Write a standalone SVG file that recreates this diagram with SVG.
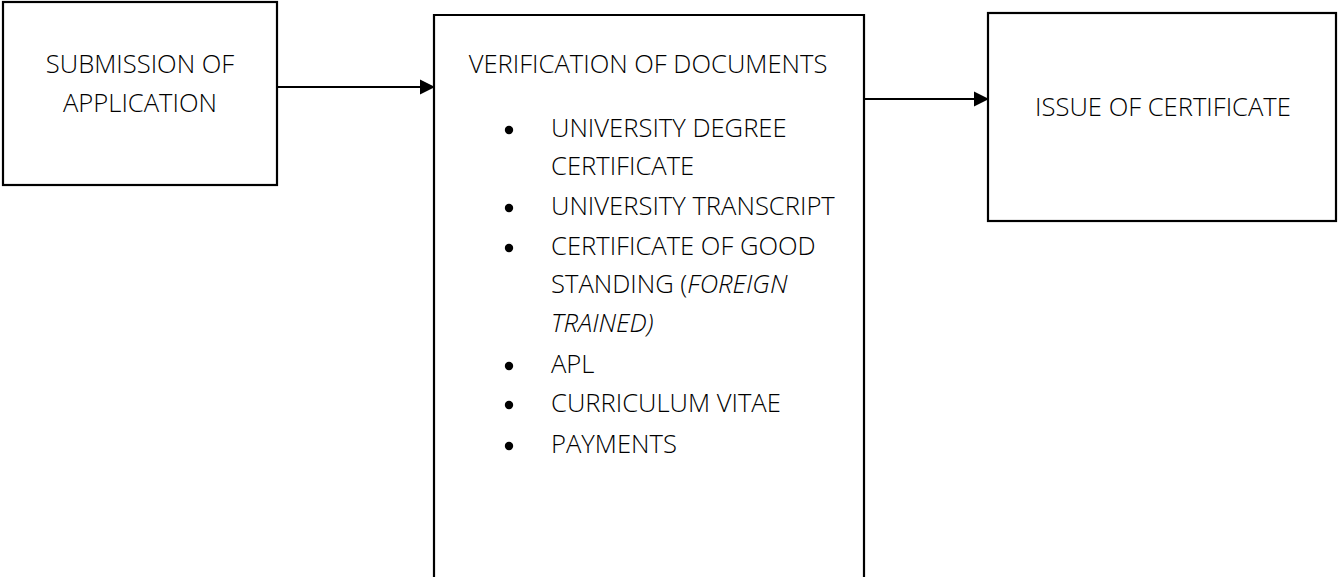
<svg xmlns="http://www.w3.org/2000/svg" width="1339" height="577" viewBox="0 0 1339 577">
<defs>
<style>
.box{fill:#fff;stroke:#000;stroke-width:2.2}
.t{font-family:"Open Sans","Liberation Sans",sans-serif;font-weight:300;font-size:25.6px;fill:#000}
.i{font-style:italic}
.edge{stroke:#000;stroke-width:2.2;fill:none}
.b{fill:#000}
</style>
<marker id="ah" viewBox="0 0 10 10" refX="10" refY="5" markerWidth="7" markerHeight="7" markerUnits="strokeWidth" orient="auto" preserveAspectRatio="none">
<path d="M0,0 L10,5 L0,10 z" fill="#000"/>
</marker>
</defs>
<rect width="1339" height="577" fill="#fff"/>
<g id="connectors">
<line class="edge" x1="277" y1="87" x2="435" y2="87" marker-end="url(#ah)"/>
<line class="edge" x1="864" y1="99" x2="989" y2="99" marker-end="url(#ah)"/>
</g>
<g id="submission">
<rect class="box" x="3" y="2" width="274" height="183"/>
<text class="t" x="140" y="73" text-anchor="middle">SUBMISSION OF</text>
<text class="t" x="140" y="112" text-anchor="middle">APPLICATION</text>
</g>
<g id="verification">
<path class="box" d="M434,580 L434,15 L864,15 L864,580"/>
<text class="t" x="648" y="73" text-anchor="middle">VERIFICATION OF DOCUMENTS</text>
<circle class="b" cx="509" cy="130" r="4.2"/>
<text class="t" x="551" y="137">UNIVERSITY DEGREE</text>
<text class="t" x="551" y="175">CERTIFICATE</text>
<circle class="b" cx="509" cy="208" r="4.2"/>
<text class="t" x="551" y="215">UNIVERSITY TRANSCRIPT</text>
<circle class="b" cx="509" cy="248" r="4.2"/>
<text class="t" x="551" y="255">CERTIFICATE OF GOOD</text>
<text class="t" x="551" y="293">STANDING (<tspan class="i">FOREIGN</tspan></text>
<text class="t i" x="551" y="332">TRAINED)</text>
<circle class="b" cx="509" cy="366" r="4.2"/>
<text class="t" x="551" y="373">APL</text>
<circle class="b" cx="509" cy="405" r="4.2"/>
<text class="t" x="551" y="412">CURRICULUM VITAE</text>
<circle class="b" cx="509" cy="446" r="4.2"/>
<text class="t" x="551" y="453">PAYMENTS</text>
</g>
<g id="issue">
<rect class="box" x="988" y="13" width="348" height="208"/>
<text class="t" x="1163" y="116" text-anchor="middle">ISSUE OF CERTIFICATE</text>
</g>
</svg>
